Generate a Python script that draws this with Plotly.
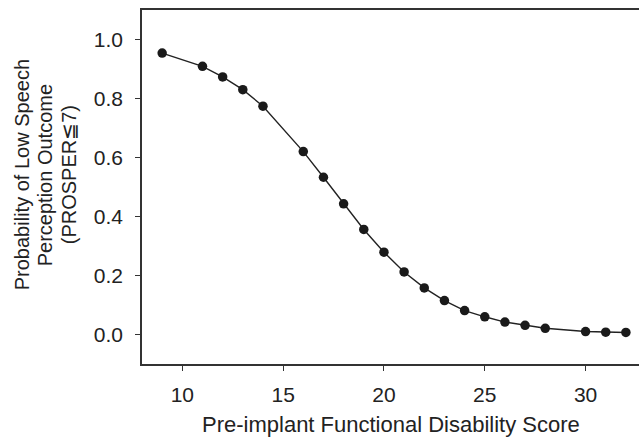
import plotly.graph_objects as go

scores = [9, 11, 12, 13, 14, 16, 17, 18, 19, 20, 21, 22, 23, 24, 25, 26, 27, 28, 30, 31, 32]
probability = [0.954, 0.909, 0.873, 0.830, 0.774, 0.620, 0.533, 0.443, 0.356, 0.279, 0.212,
               0.158, 0.115, 0.081, 0.060, 0.042, 0.031, 0.021, 0.010, 0.008, 0.007]
x_ticks = [10, 15, 20, 25, 30]
y_ticks = [0.0, 0.2, 0.4, 0.6, 0.8, 1.0]
y_title_lines = ["Probability of Low Speech", "Perception Outcome", "(PROSPER\u22667)"]
x_title = "Pre-implant Functional Disability Score"

FONT = "Liberation Sans, Arial, sans-serif"
INK = "#222222"

fig = go.Figure()
fig.add_trace(go.Scatter(
    x=scores, y=probability, mode="lines+markers",
    line=dict(color=INK, width=1.4),
    marker=dict(color="#1a1a1a", size=9.5),
    showlegend=False,
))

fig.update_layout(
    width=639, height=439,
    margin=dict(l=142, r=0, t=10, b=75),
    paper_bgcolor="white", plot_bgcolor="white",
    font=dict(family=FONT, color=INK, size=20),
    xaxis=dict(
        range=[8, 32.65], tickvals=x_ticks, ticktext=[str(v) for v in x_ticks],
        showgrid=False, zeroline=False, showline=True, linecolor="#333333", linewidth=1.5,
        mirror=True, ticks="outside", ticklen=5, tickcolor="#333333", tickwidth=1,
        tickfont=dict(size=21, family=FONT, color=INK), ticklabelstandoff=6,
    ),
    yaxis=dict(
        range=[-0.1, 1.1], tickvals=y_ticks, ticktext=[f"{v:.1f}" for v in y_ticks],
        showgrid=False, zeroline=False, showline=True, linecolor="#333333", linewidth=1.5,
        mirror=False, ticks="outside", ticklen=5, tickcolor="#333333", tickwidth=1,
        tickfont=dict(size=21, family=FONT, color=INK), ticklabelstandoff=8,
    ),
)

# x-axis title
fig.add_annotation(
    text=x_title, xref="paper", yref="paper", x=0.5, y=0, yshift=-46,
    xanchor="center", yanchor="top", showarrow=False,
    font=dict(size=22, family=FONT, color=INK),
)

# y-axis title: three rotated lines
x_centers_px = [22, 45, 69]
for line, cx in zip(y_title_lines, x_centers_px):
    fig.add_annotation(
        text=line, xref="paper", yref="paper",
        x=0, xshift=cx - 142, y=0.5, yshift=(363.5 - 175) - 353.5 / 2,
        xanchor="center", yanchor="middle", textangle=-90, showarrow=False,
        font=dict(size=20, family=FONT, color=INK),
    )

fig.write_html(
    "out.html",
    config={"displayModeBar": False},
    post_script="document.body.style.margin='0';document.body.style.padding='0';",
)
